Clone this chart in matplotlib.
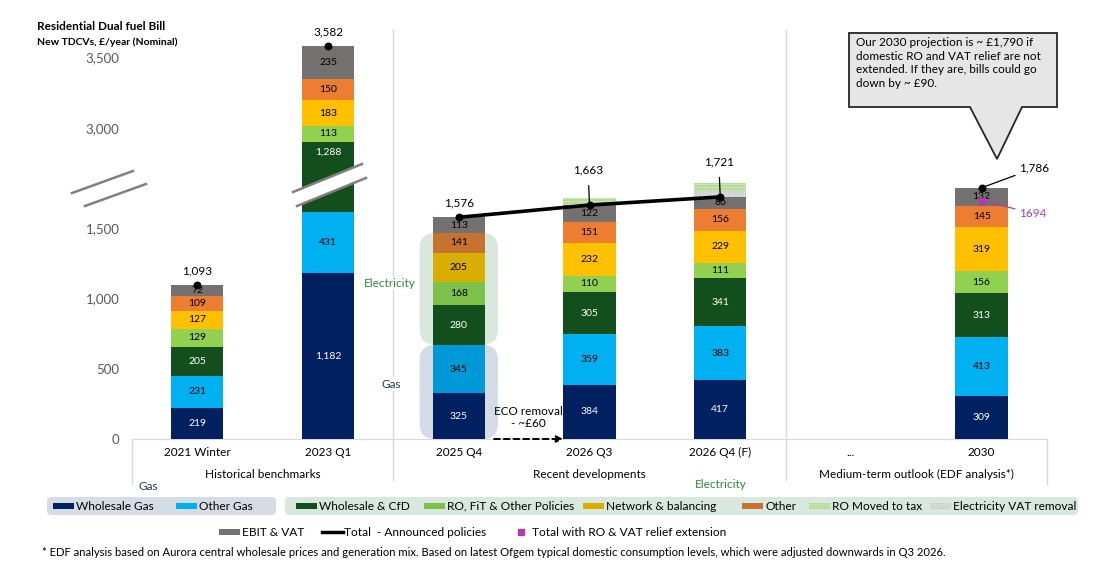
import numpy as np
import matplotlib.pyplot as plt
from matplotlib.patches import Rectangle, Polygon, FancyBboxPatch
import matplotlib.transforms as mtransforms

plt.rcParams['font.family'] = ['Lato', 'DejaVu Sans']
plt.rcParams['hatch.linewidth'] = 1.3

W, H = 1105, 577

# ---- data ----
periods = ['2021 Winter', '2023 Q1', '2025 Q4', '2026 Q3', '2026 Q4 (F)', '2030']
tick_labels = ['2021 Winter', '2023 Q1', '2025 Q4', '2026 Q3', '2026 Q4 (F)', '...', '2030']
groups = ['Historical benchmarks', 'Recent developments', 'Medium-term outlook (EDF analysis*)']

wholesale_gas = [219, 1182, 325, 384, 417, 309]
other_gas = [231, 431, 345, 359, 383, 413]
wholesale_cfd = [205, 1288, 280, 305, 341, 313]
ro_fit = [129, 113, 168, 110, 111, 156]
network = [127, 183, 205, 232, 229, 319]
other = [109, 150, 141, 151, 156, 145]
ebit_vat = [72, 235, 113, 122, 86, 132]
vat_removal = [0, 0, 0, 0, 38, 0]
ro_moved = [0, 0, 0, 50, 62, 0]
totals = [1093, 3582, 1576, 1663, 1721, 1786]
relief_2030 = 1694

ytick_vals = [0, 500, 1000, 1500, 3000, 3500]

# ---- style ----
bar_pos = np.array([0, 1, 2, 3, 4, 6])
colors = ['#002060', '#00B0F0', '#134F1C', '#92D050', '#FFC000', '#ED7D31', '#767171']
q4_colors = ['#002060', '#0099D8', '#134F1C', '#7DC04A', '#D8AE00', '#C6732F', '#767171']
txt_colors = ['white', 'black', 'white', 'black', 'black', 'black', 'black']
names = ['Wholesale Gas', 'Other Gas', 'Wholesale & CfD', 'RO, FiT & Other Policies',
         'Network & balancing', 'Other', 'EBIT & VAT']
NAVY = '#203864'
EGREEN = '#2E8B3A'
MAG = '#B03CA8'
GRID = '#D9D9D9'
RO_FC, RO_EC = '#D8EDC8', '#9CCF72'
VAT_FC, VAT_EC = '#E8E8E8', '#BDBDBD'

# axis break: values above BREAK_AT are shifted down by GAP
BREAK_AT = 1900
GAP = 789


def squash(v):
    v = np.asarray(v, float)
    return np.where(v > BREAK_AT, v - GAP, v)


def fx(px):
    return px / W


def fy(py):
    return 1 - py / H


fig = plt.figure(figsize=(W / 100, H / 100), dpi=100)
ax = fig.add_axes([fx(132), fy(439), 915 / W, 409 / H])
ax.set_xlim(-0.5, 6.5)
ax.set_ylim(0, 409 / 0.14067)

# stacked bars
bottom = np.zeros(len(periods))
for i, vals in enumerate([wholesale_gas, other_gas, wholesale_cfd, ro_fit, network, other, ebit_vat]):
    vals = np.array(vals, float)
    top = bottom + vals
    bd, td = squash(bottom), squash(top)
    fc = [q4_colors[i] if p == '2025 Q4' else colors[i] for p in periods]
    ax.bar(bar_pos, td - bd, bottom=bd, width=0.4, color=fc, zorder=3)
    for x, v, b, t in zip(bar_pos, vals, bd, td):
        ym = (b + t) / 2 if abs((t - b) - v) < 1 else t - 72
        ax.text(x, ym, f'{v:,.0f}', ha='center', va='center', color=txt_colors[i],
                fontsize=7.5, zorder=7)
    bottom = top

ax.bar(bar_pos, vat_removal, bottom=bottom, width=0.4, color=VAT_FC, hatch='......',
       edgecolor=VAT_EC, lw=0, zorder=3)
bottom = bottom + np.array(vat_removal)
ax.bar(bar_pos, ro_moved, bottom=bottom, width=0.4, color=RO_FC, hatch='......',
       edgecolor=RO_EC, lw=0, zorder=3)

# totals
tot_d = squash(totals)
ax.scatter(bar_pos, tot_d, s=22, color='black', zorder=8)
pol = [2, 3, 4]
ax.plot(bar_pos[pol], tot_d[pol], color='black', lw=2.6, zorder=8)
ax.scatter([bar_pos[-1]], [relief_2030], marker='s', s=22, color=MAG, zorder=9)

lab_kw = dict(ha='center', va='center', fontsize=8.5, zorder=9, textcoords='offset points')
for i in [0, 1, 2]:
    ax.annotate(f'{totals[i]:,}', (bar_pos[i], tot_d[i]), xytext=(0, 10), **lab_kw)
for i in [3, 4]:
    ax.annotate(f'{totals[i]:,}', (bar_pos[i], tot_d[i]), xytext=(-1, 25), **lab_kw,
                arrowprops=dict(arrowstyle='-', color='black', lw=0.9, shrinkA=5, shrinkB=0))
ax.annotate(f'{totals[5]:,}', (bar_pos[5], tot_d[5]), xytext=(27, 14),
            ha='left', va='center', fontsize=8.5, textcoords='offset points', zorder=9,
            arrowprops=dict(arrowstyle='-', color='black', lw=0.9, shrinkA=1, shrinkB=0))
ax.annotate(f'{relief_2030}', (bar_pos[5], relief_2030), xytext=(27, -9),
            ha='left', va='center', fontsize=8.5, color=MAG, textcoords='offset points', zorder=9,
            arrowprops=dict(arrowstyle='-', color=MAG, lw=0.9, shrinkA=1, shrinkB=0))

# axes styling
for s in ['top', 'right', 'left']:
    ax.spines[s].set_visible(False)
ax.spines['bottom'].set_color(GRID)
ax.set_yticks(squash(ytick_vals))
ax.set_yticklabels([f'{v:,}' for v in ytick_vals], color='#595959', fontsize=9.5)
ax.tick_params(axis='y', length=0, pad=9)
ax.set_xticks(range(len(tick_labels)))
ax.set_xticklabels(tick_labels, fontsize=8.5)
ax.tick_params(axis='x', length=0, pad=6)

tr = mtransforms.blended_transform_factory(ax.transData, ax.transAxes)
for x in [1.5, 4.5]:
    ax.plot([x, x], [-0.1, 1.0], color=GRID, lw=1, transform=tr, clip_on=False, zorder=1)
for x in [-0.5, 6.5]:
    ax.plot([x, x], [-0.11, 0], color=GRID, lw=1, transform=tr, clip_on=False, zorder=1)
for x, g in zip([0.5, 3, 5.5], groups):
    ax.text(x, -0.086, g, transform=tr, ha='center', va='center', fontsize=8.5)

# Electricity / Gas highlight around 2025 Q4
ax.figure.canvas.draw()
pxx = ax.transData.transform((1, 0))[0] - ax.transData.transform((0, 0))[0]
pxy = ax.transData.transform((0, 1))[1] - ax.transData.transform((0, 0))[1]
asp = pxx / pxy
gas_top = wholesale_gas[2] + other_gas[2]
elec_top = sum(v[2] for v in [wholesale_gas, other_gas, wholesale_cfd, ro_fit, network, other])
for y0, y1, c in [(0, gas_top, '#D6DCE5'), (gas_top, elec_top, '#D9E8DC')]:
    ax.add_patch(FancyBboxPatch((2 - 0.3, y0), 0.6, y1 - y0,
                                boxstyle='round,pad=0,rounding_size=0.12',
                                mutation_aspect=asp, fc=c, ec='none', zorder=2))
ax.text(1.47, 1105, 'Electricity', color=EGREEN, fontsize=8.5, ha='center', va='center',
        zorder=4, bbox=dict(fc='white', ec='none', pad=1))
ax.text(1.48, 390, 'Gas', color=NAVY, fontsize=8.5, ha='center', va='center',
        zorder=4, bbox=dict(fc='white', ec='none', pad=1))

# ECO removal arrow
ax.annotate('', xy=(2.8, 0), xytext=(2.27, 0),
            arrowprops=dict(arrowstyle='-|>', ls=(0, (3, 2)), color='black', lw=1.4,
                            shrinkA=0, shrinkB=0), zorder=6, annotation_clip=False)
ax.text(2.53, 150, 'ECO removal\n- ~£60', ha='center', va='center', fontsize=8.5,
        linespacing=1.1, zorder=6)

# axis break marks (drawn in pixel space)
def break_mark(x0, y0, x1, y1, dx, dy, fill=False):
    up = [(fx(x0), fy(y0)), (fx(x1), fy(y1))]
    lo = [(fx(x0 + dx), fy(y0 + dy)), (fx(x1 + dx), fy(y1 + dy))]
    if fill:
        fig.add_artist(Polygon(up + lo[::-1], closed=True, fc='white', ec='none',
                               transform=fig.transFigure, zorder=10))
    for seg in (up, lo):
        fig.add_artist(plt.Line2D([seg[0][0], seg[1][0]], [seg[0][1], seg[1][1]],
                                  color='#808080', lw=1.8, transform=fig.transFigure, zorder=11))

break_mark(72, 193, 133, 171, 13, 13)
break_mark(293, 192, 362, 164, 4, 14, fill=True)

# title
fig.text(fx(37), fy(27), 'Residential Dual fuel Bill', fontsize=8.5, fontweight='bold', va='center')
fig.text(fx(37), fy(42), 'New TDCVs, £/year (Nominal)', fontsize=7.5, fontweight='bold', va='center')

# callout
call = [(849, 33), (1057, 33), (1057, 107), (1022, 107), (997, 159), (970, 107), (849, 107)]
fig.add_artist(Polygon([(fx(a), fy(b)) for a, b in call], closed=True, fc='#E7E6E6',
                       ec='#262626', lw=1.3, transform=fig.transFigure, zorder=12))
fig.text(fx(856), fy(37), 'Our 2030 projection is ~ £1,790 if\ndomestic RO and VAT relief are not\n'
         'extended. If they are, bills could go\ndown by ~ £90.', fontsize=8.5, va='top',
         ha='left', linespacing=1.3, zorder=13)

# legend
fig.text(fx(148), fy(487), 'Gas', color=NAVY, fontsize=8.5, ha='center', va='center')
fig.text(fx(721), fy(485), 'Electricity', color=EGREEN, fontsize=8.5, ha='center', va='center')
for x0, x1, c in [(47, 276, '#D6DCE5'), (285, 1078, '#D9E8DC')]:
    fig.add_artist(FancyBboxPatch((fx(x0), fy(515)), fx(x1) - fx(x0), fy(497) - fy(515),
                                  boxstyle='round,pad=0,rounding_size=0.004',
                                  mutation_aspect=W / H, fc=c, ec='none',
                                  transform=fig.transFigure, zorder=0))

def leg_patch(x, y, label, fc, hatch=None, ec='none'):
    fig.add_artist(Rectangle((fx(x), fy(y + 3)), 21 / W, 6 / H, fc=fc, ec=ec, lw=0, hatch=hatch,
                             transform=fig.transFigure, zorder=1))
    fig.text(fx(x + 23), fy(y), label, fontsize=8.6, va='center', ha='left')

leg_x = [53, 176, 296, 424, 583, 742]
for i in range(6):
    leg_patch(leg_x[i], 506, names[i], q4_colors[i] if i in (3, 4, 5) else colors[i])
leg_patch(809, 506, 'RO Moved to tax', RO_FC, hatch='......', ec=RO_EC)
leg_patch(930, 506, 'Electricity VAT removal', VAT_FC, hatch='......', ec=VAT_EC)
leg_patch(219, 532, 'EBIT & VAT', colors[6])
fig.add_artist(plt.Line2D([fx(322), fx(343)], [fy(532), fy(532)], color='black', lw=2.5,
                          transform=fig.transFigure))
fig.text(fx(344), fy(532), 'Total  - Announced policies', fontsize=8.6, va='center')
fig.add_artist(plt.Line2D([fx(521)], [fy(532)], marker='s', ms=5, color=MAG, lw=0,
                          transform=fig.transFigure))
fig.text(fx(532), fy(532), 'Total with RO & VAT relief extension', fontsize=8.6, va='center')

fig.text(fx(42), fy(553), '* EDF analysis based on Aurora central wholesale prices and generation mix. '
         'Based on latest Ofgem typical domestic consumption levels, which were adjusted downwards in Q3 2026.',
         fontsize=8.1, va='center')

fig.savefig('out.png', dpi=100)
